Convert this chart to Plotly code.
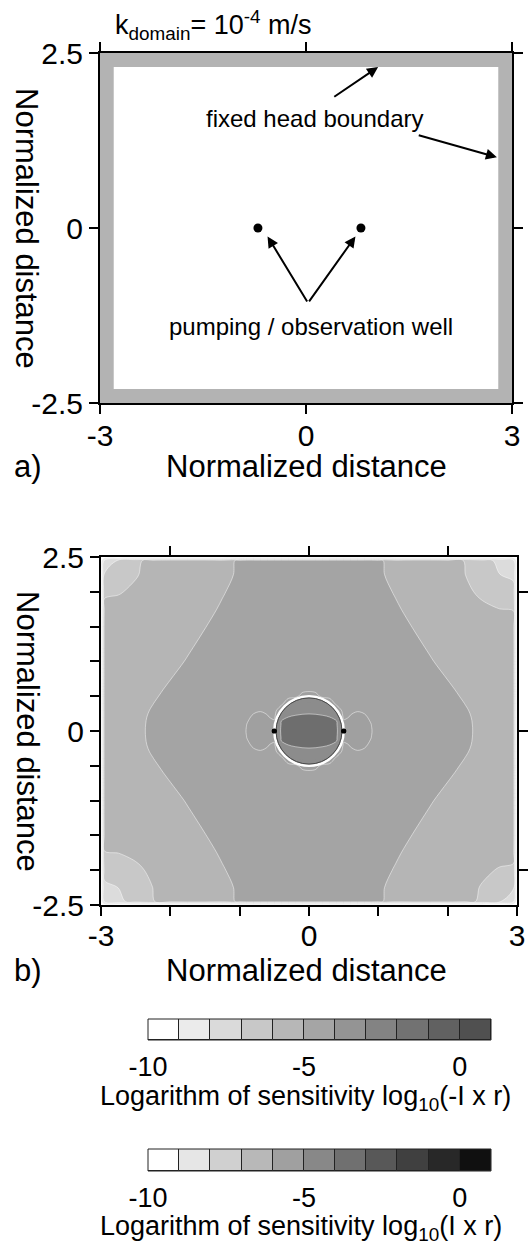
import plotly.graph_objects as go

FONT = "Liberation Sans, Arial, Helvetica, sans-serif"
W, H = 531, 1245

# ---------------- data ----------------
x_limits = [-3, 3]
y_limits = [-2.5, 2.5]

# panel a (schematic)
boundary_width = 0.2
wells_a_x = [-0.7, 0.8]
wells_a_y = [0.0, 0.0]

# panel b: grey band (0 = white ... 9 = darkest) of log10 sensitivity
grid_x = [-3, -2.95, -2.75, -2.5, -2.25, -2, -1.75, -1.5, -1.25,
          -1.0, -0.9, -0.8, -0.7, -0.6, -0.5, -0.4, -0.3, -0.2, -0.1, 0.0,
          0.1, 0.2, 0.3, 0.4, 0.5, 0.6, 0.7, 0.8, 0.9, 1.0,
          1.25, 1.5, 1.75, 2, 2.25, 2.5, 2.75, 2.95, 3]
grid_y = [-2.5, -2.45, -2.25, -2, -1.75, -1.5, -1.25, -1.0,
          -0.6, -0.5, -0.4, -0.3, -0.2, -0.1, 0.0, 0.1, 0.2, 0.3, 0.4, 0.5, 0.6,
          1.0, 1.25, 1.5, 1.75, 2, 2.25, 2.45, 2.5]

# left block (x = -3 .. -1.25), one row per grid_y value
z_left = [
    [0] * 9,
    [0, 1.6, 2.24, 2.89, 3.46, 3.88, 4, 4, 3.85],
    [0, 2.24, 2.51, 2.98, 3.51, 3.92, 4, 4, 3.92],
    [0, 2.89, 2.98, 3.31, 3.69, 4, 4, 4, 4.32],
    [0, 3.46, 3.51, 3.69, 3.95, 4, 4, 3.89, 4.79],
    [0, 3.88, 3.92, 4, 4, 4, 4, 4.43, 5.33],
    [0, 4, 4, 4, 4, 4, 4.1, 5, 5],
    [0, 4, 4, 4, 4, 3.78, 4.68, 5, 5],
    [0, 4, 4, 4, 3.96, 4.86, 5, 5, 5],
    [0, 4, 4, 4, 4.21, 5.11, 5, 5, 5],
    [0, 4, 4, 4, 4.46, 5.36, 5, 5, 5],
    [0, 4, 4, 3.78, 4.68, 5, 5, 5, 5],
    [0, 4, 4, 3.92, 4.82, 5, 5, 5, 5],
    [0, 4, 4, 3.98, 4.88, 5, 5, 5, 5],
    [0, 4, 4, 4.0, 4.9, 5, 5, 5, 5],
    [0, 4, 4, 3.98, 4.88, 5, 5, 5, 5],
    [0, 4, 4, 3.92, 4.82, 5, 5, 5, 5],
    [0, 4, 4, 3.78, 4.68, 5, 5, 5, 5],
    [0, 4, 4, 4, 4.46, 5.36, 5, 5, 5],
    [0, 4, 4, 4, 4.21, 5.11, 5, 5, 5],
    [0, 4, 4, 4, 3.96, 4.86, 5, 5, 5],
    [0, 4, 4, 4, 4, 3.78, 4.68, 5, 5],
    [0, 4, 4, 4, 4, 4, 4.1, 5, 5],
    [0, 4, 4, 4, 4, 4, 4, 4.43, 5.33],
    [0, 3.8, 3.85, 4, 4, 4, 4, 3.89, 4.79],
    [0, 3.31, 3.42, 3.69, 4, 4, 4, 4, 4.32],
    [0, 2.64, 2.86, 3.42, 3.85, 4, 4, 4, 3.92],
    [0, 1.6, 2.64, 3.31, 3.8, 4, 4, 4, 3.85],
    [0] * 9,
]
# middle block (x = -1 .. 1)
z_mid = [
    [0] * 21,
    [4.75] + [5] * 19 + [4.75],
    [4.82] + [5] * 19 + [4.82],
    [5.22] + [5] * 19 + [5.22],
    [5] * 21,
    [5] * 21,
    [5] * 21,
    [5] * 21,
    [5] * 21,
    [5, 5, 5, 5, 5, 5, 5, 5, 5.0, 6.0, 6.5, 6.0, 5.0, 5, 5, 5, 5, 5, 5, 5, 5],
    [5, 5, 5, 5, 5, 5, 5, 6.5, 7.64, 7.7, 7.72, 7.7, 7.64, 6.5, 5, 5, 5, 5, 5, 5, 5],
    [5.0, 5.0, 5.33, 5.43, 5.28, 5.0, 6.5, 8.1, 8.2, 8.26, 8.28, 8.26, 8.2, 8.1, 6.5, 5.0, 5.28, 5.43, 5.33, 5.0, 5.0],
    [5.0, 5.3, 5.65, 5.75, 5.6, 5.2, 8.36, 8.5, 8.6, 8.66, 8.68, 8.66, 8.6, 8.5, 8.36, 5.2, 5.6, 5.75, 5.65, 5.3, 5.0],
    [5.0, 5.49, 5.84, 5.94, 5.79, 6.0, 8.6, 8.74, 8.84, 8.9, 8.92, 8.9, 8.84, 8.74, 8.6, 6.0, 5.79, 5.94, 5.84, 5.49, 5.0],
    [5.0, 5.55, 5.9, 5.95, 5.85, 6.5, 8.72, 8.82, 8.92, 8.98, 9.0, 8.98, 8.92, 8.82, 8.72, 6.5, 5.85, 5.95, 5.9, 5.55, 5.0],
    [5.0, 5.49, 5.84, 5.94, 5.79, 6.0, 8.6, 8.74, 8.84, 8.9, 8.92, 8.9, 8.84, 8.74, 8.6, 6.0, 5.79, 5.94, 5.84, 5.49, 5.0],
    [5.0, 5.3, 5.65, 5.75, 5.6, 5.2, 8.36, 8.5, 8.6, 8.66, 8.68, 8.66, 8.6, 8.5, 8.36, 5.2, 5.6, 5.75, 5.65, 5.3, 5.0],
    [5.0, 5.0, 5.33, 5.43, 5.28, 5.0, 6.5, 8.1, 8.2, 8.26, 8.28, 8.26, 8.2, 8.1, 6.5, 5.0, 5.28, 5.43, 5.33, 5.0, 5.0],
    [5, 5, 5, 5, 5, 5, 5, 6.5, 7.64, 7.7, 7.72, 7.7, 7.64, 6.5, 5, 5, 5, 5, 5, 5, 5],
    [5, 5, 5, 5, 5, 5, 5, 5, 5.0, 6.0, 6.5, 6.0, 5.0, 5, 5, 5, 5, 5, 5, 5, 5],
    [5] * 21,
    [5] * 21,
    [5] * 21,
    [5] * 21,
    [5] * 21,
    [5.22] + [5] * 19 + [5.22],
    [4.82] + [5] * 19 + [4.82],
    [4.75] + [5] * 19 + [4.75],
    [0] * 21,
]
# right block (x = 1.25 .. 3)
z_right = [
    [0] * 9,
    [3.85, 4, 4, 4, 3.8, 3.31, 2.64, 1.6, 0],
    [3.92, 4, 4, 4, 3.85, 3.42, 2.86, 2.64, 0],
    [4.32, 4, 4, 4, 4, 3.69, 3.42, 3.31, 0],
    [4.79, 3.89, 4, 4, 4, 4, 3.85, 3.8, 0],
    [5.33, 4.43, 4, 4, 4, 4, 4, 4, 0],
    [5, 5, 4.1, 4, 4, 4, 4, 4, 0],
    [5, 5, 4.68, 3.78, 4, 4, 4, 4, 0],
    [5, 5, 5, 4.86, 3.96, 4, 4, 4, 0],
    [5, 5, 5, 5.11, 4.21, 4, 4, 4, 0],
    [5, 5, 5, 5.36, 4.46, 4, 4, 4, 0],
    [5, 5, 5, 5, 4.68, 3.78, 4, 4, 0],
    [5, 5, 5, 5, 4.82, 3.92, 4, 4, 0],
    [5, 5, 5, 5, 4.88, 3.98, 4, 4, 0],
    [5, 5, 5, 5, 4.9, 4.0, 4, 4, 0],
    [5, 5, 5, 5, 4.88, 3.98, 4, 4, 0],
    [5, 5, 5, 5, 4.82, 3.92, 4, 4, 0],
    [5, 5, 5, 5, 4.68, 3.78, 4, 4, 0],
    [5, 5, 5, 5.36, 4.46, 4, 4, 4, 0],
    [5, 5, 5, 5.11, 4.21, 4, 4, 4, 0],
    [5, 5, 5, 4.86, 3.96, 4, 4, 4, 0],
    [5, 5, 4.68, 3.78, 4, 4, 4, 4, 0],
    [5, 5, 4.1, 4, 4, 4, 4, 4, 0],
    [5.33, 4.43, 4, 4, 4, 4, 3.92, 3.88, 0],
    [4.79, 3.89, 4, 4, 3.95, 3.69, 3.51, 3.46, 0],
    [4.32, 4, 4, 4, 3.69, 3.31, 2.98, 2.89, 0],
    [3.92, 4, 4, 3.92, 3.51, 2.98, 2.51, 2.24, 0],
    [3.85, 4, 4, 3.88, 3.46, 2.89, 2.24, 1.6, 0],
    [0] * 9,
]
grid_z = [l + m + r for l, m, r in zip(z_left, z_mid, z_right)]

wells_b_x = [-0.5, 0.5]
wells_b_y = [0.0, 0.0]

# grey for each band 0 .. 9
band_colors = ["#ffffff", "#ececec", "#dcdcdc", "#c8c8c8", "#b5b5b5",
               "#a4a4a4", "#a0a0a0", "#8c8c8c", "#8c8c8c", "#6e6e6e"]

# colour legends: one box per decade, box spans [level, level + 1]
legend_levels = [-10, -9, -8, -7, -6, -5, -4, -3, -2, -1, 0]
neg_colors = ["#ffffff", "#ebebeb", "#dadada", "#c8c8c8", "#b7b7b7", "#a5a5a5",
              "#949494", "#838383", "#727272", "#616161", "#505050"]
pos_colors = ["#ffffff", "#e6e6e6", "#d0d0d0", "#b8b8b8", "#a0a0a0", "#888888",
              "#707070", "#585858", "#404040", "#282828", "#101010"]
legend_ticks = [-10, -5, 0]
legend_ticktext = ["-10", "-5", "0"]

# ---------------- figure ----------------
def px_x(p):
    return p / W

def px_y(p):
    return 1 - p / H

n = len(band_colors) - 1
colorscale = []
for j, c in enumerate(band_colors):
    colorscale.append([max(0.0, (j - 0.5) / n), c])
    colorscale.append([min(1.0, (j + 0.5) / n), c])

fig = go.Figure()
fig.add_trace(go.Scatter(x=wells_a_x, y=wells_a_y, mode="markers",
                         marker=dict(color="black", size=9), xaxis="x", yaxis="y",
                         showlegend=False, hoverinfo="skip"))
fig.add_trace(go.Contour(
    x=grid_x, y=grid_y, z=grid_z,
    contours=dict(start=0.5, end=n - 0.5, size=1, coloring="fill", showlines=False),
    colorscale=colorscale, showscale=False, line=dict(width=0, smoothing=1.0),
    hoverinfo="skip", xaxis="x2", yaxis="y2"))
for lo, hi in ((1.5, 5.5), (8.5, 8.5)):
    fig.add_trace(go.Contour(
        x=grid_x, y=grid_y, z=grid_z,
        contours=dict(start=lo, end=hi, size=1, coloring="none", showlines=True),
        line=dict(color="rgba(255,255,255,0.6)", width=0.8, smoothing=1.0),
        showscale=False, hoverinfo="skip", xaxis="x2", yaxis="y2"))
fig.add_trace(go.Scatter(x=wells_b_x, y=wells_b_y, mode="markers",
                         marker=dict(color="black", size=5), xaxis="x2", yaxis="y2",
                         showlegend=False, hoverinfo="skip"))
fig.add_trace(go.Scatter(x=[], y=[], xaxis="x3", yaxis="y3", showlegend=False))
for cols, xa, ya in ((neg_colors, "x4", "y4"), (pos_colors, "x5", "y5")):
    fig.add_trace(go.Bar(x=legend_levels, y=[1] * len(legend_levels), width=1, offset=0,
                         marker=dict(color=cols, line=dict(color="#222", width=1)),
                         cliponaxis=False, xaxis=xa, yaxis=ya, showlegend=False,
                         hoverinfo="skip"))

tickfont = dict(family=FONT, size=30, color="black")
axis_common = dict(showgrid=False, zeroline=False, ticks="outside", ticklen=9,
                   tickwidth=2, tickcolor="black", showline=True, linewidth=2,
                   linecolor="black", tickfont=tickfont, fixedrange=True,
                   automargin=False)
minor_style = dict(ticks="outside", ticklen=9, tickwidth=2, tickcolor="black",
                   showgrid=False)
cbar_x = dict(range=[legend_levels[0], legend_levels[-1] + 1], tickvals=legend_ticks,
              ticktext=legend_ticktext, ticks="outside", ticklen=3,
              tickcolor="rgba(0,0,0,0)", showline=False, showgrid=False, zeroline=False,
              tickfont=dict(family=FONT, size=27, color="black"), fixedrange=True,
              automargin=False)

dom_ax = [px_x(100), px_x(512)]
dom_ay = [px_y(403), px_y(53)]
dom_bx = [px_x(101), px_x(517)]
dom_by = [px_y(905), px_y(557)]

fig.update_layout(
    template="none",
    width=W, height=H, margin=dict(l=0, r=0, t=0, b=0, autoexpand=False),
    paper_bgcolor="white", plot_bgcolor="white", showlegend=False, bargap=0,
    font=dict(family=FONT, color="black"),
    xaxis=dict(domain=dom_ax, range=x_limits, anchor="y", tickvals=[-3, 0, 3],
               ticktext=["-3", "0", "3"], mirror="ticks", ticklabelstandoff=-4,
               **axis_common),
    yaxis=dict(domain=dom_ay, range=y_limits, anchor="x", tickvals=[-2.5, 0, 2.5],
               ticktext=["-2.5", "0", "2.5"], mirror="ticks", **axis_common),
    xaxis2=dict(domain=dom_bx, range=x_limits, anchor="y2", tickvals=[-3, 0, 3],
                ticktext=["-3", "0", "3"], ticklabelstandoff=-6,
                minor=dict(tickmode="array", tickvals=[-2, -1, 1, 2], **minor_style),
                **axis_common),
    yaxis2=dict(domain=dom_by, range=y_limits, anchor="x2", tickvals=[-2.5, 0, 2.5],
                ticktext=["-2.5", "0", "2.5"],
                minor=dict(tickmode="array",
                           tickvals=[-2, -1.5, -1, -0.5, 0.5, 1, 1.5, 2], **minor_style),
                **axis_common),
    xaxis3=dict(overlaying="x2", side="top", anchor="y3", range=x_limits,
                tickvals=[-2, 0, 2], showticklabels=False, **axis_common),
    yaxis3=dict(overlaying="y2", side="right", anchor="x3", range=y_limits,
                tickvals=[-2, 0, 2], showticklabels=False, **axis_common),
    xaxis4=dict(domain=[px_x(148), px_x(491)], anchor="y4", **cbar_x),
    yaxis4=dict(domain=[px_y(1040), px_y(1019)], range=[0, 1], visible=False, fixedrange=True),
    xaxis5=dict(domain=[px_x(148), px_x(491)], anchor="y5", **cbar_x),
    yaxis5=dict(domain=[px_y(1171), px_y(1149)], range=[0, 1], visible=False, fixedrange=True),
)

# panel a: fixed-head boundary strip
fig.add_shape(type="rect", xref="x", yref="y", x0=x_limits[0], x1=x_limits[1],
              y0=y_limits[0], y1=y_limits[1], fillcolor="#b3b3b3", line_width=0, layer="below")
fig.add_shape(type="rect", xref="x", yref="y",
              x0=x_limits[0] + boundary_width, x1=x_limits[1] - boundary_width,
              y0=y_limits[0] + boundary_width, y1=y_limits[1] - boundary_width,
              fillcolor="white", line_width=0, layer="below")

# panel b: zero-sensitivity circle through the two wells
cx = (wells_b_x[0] + wells_b_x[1]) / 2
cy = (wells_b_y[0] + wells_b_y[1]) / 2
R = (wells_b_x[1] - wells_b_x[0]) / 2
for scale, col, lw in ((1.0, "white", 2.5), (0.95, "#4a4a4a", 1.0)):
    fig.add_shape(type="circle", xref="x2", yref="y2",
                  x0=cx - R * scale, x1=cx + R * scale, y0=cy - R * scale, y1=cy + R * scale,
                  line=dict(color=col, width=lw), fillcolor="rgba(0,0,0,0)")
for wx, wy in zip(wells_b_x, wells_b_y):
    fig.add_shape(type="circle", xref="x2", yref="y2", xsizemode="pixel", ysizemode="pixel",
                  xanchor=wx, yanchor=wy, x0=-2.6, x1=2.6, y0=-2.6, y1=2.6,
                  fillcolor="black", line_width=0)

# outlines of the colour legends
for xa, ya in (("x4", "y4"), ("x5", "y5")):
    fig.add_shape(type="rect", xref=f"{xa} domain", yref=f"{ya} domain",
                  x0=0, x1=1, y0=0, y1=1, line=dict(color="#222", width=1),
                  fillcolor="rgba(0,0,0,0)")

ann = []
arrow = dict(xref="x", yref="y", axref="x", ayref="y", text="", showarrow=True,
             arrowhead=2, arrowsize=1.1, arrowwidth=2, arrowcolor="black")
ann.append(dict(x=1.05, y=2.3, ax=0.39, ay=1.86, **arrow))
ann.append(dict(x=2.78, y=1.01, ax=1.62, ay=1.33, **arrow))
ann.append(dict(x=-0.56, y=-0.12, ax=0.03, ay=-1.07, **arrow))
ann.append(dict(x=0.72, y=-0.12, ax=0.03, ay=-1.07, **arrow))


def label(x, y, text, size, xref="paper", yref="paper", angle=0):
    return dict(xref=xref, yref=yref, x=x, y=y, text=text, showarrow=False,
                xanchor="center", yanchor="middle", textangle=angle,
                font=dict(family=FONT, size=size, color="black"))


ann.append(label(0.13, 1.57, "fixed head boundary", 24, "x", "y"))
ann.append(label(0.07, -1.4, "pumping / observation well", 24, "x", "y"))
ann.append(label(px_x(213), px_y(25), "k<sub>domain</sub>= 10<sup>-4</sup> m/s", 27))
for yc in (228, 731):
    ann.append(label(px_x(27), px_y(yc), "Normalized distance", 31, angle=90))
for yc, lab in ((467, "a)"), (970, "b)")):
    ann.append(label(px_x(306), px_y(yc), "Normalized distance", 31))
    ann.append(label(px_x(28), px_y(yc), lab, 31))
ann.append(label(px_x(305), px_y(1098), "Logarithm of sensitivity log<sub>10</sub>(-I x r)", 27))
ann.append(label(px_x(301), px_y(1228), "Logarithm of sensitivity log<sub>10</sub>(I x r)", 27))
fig.update_layout(annotations=ann)

fig.write_html("out.html")
